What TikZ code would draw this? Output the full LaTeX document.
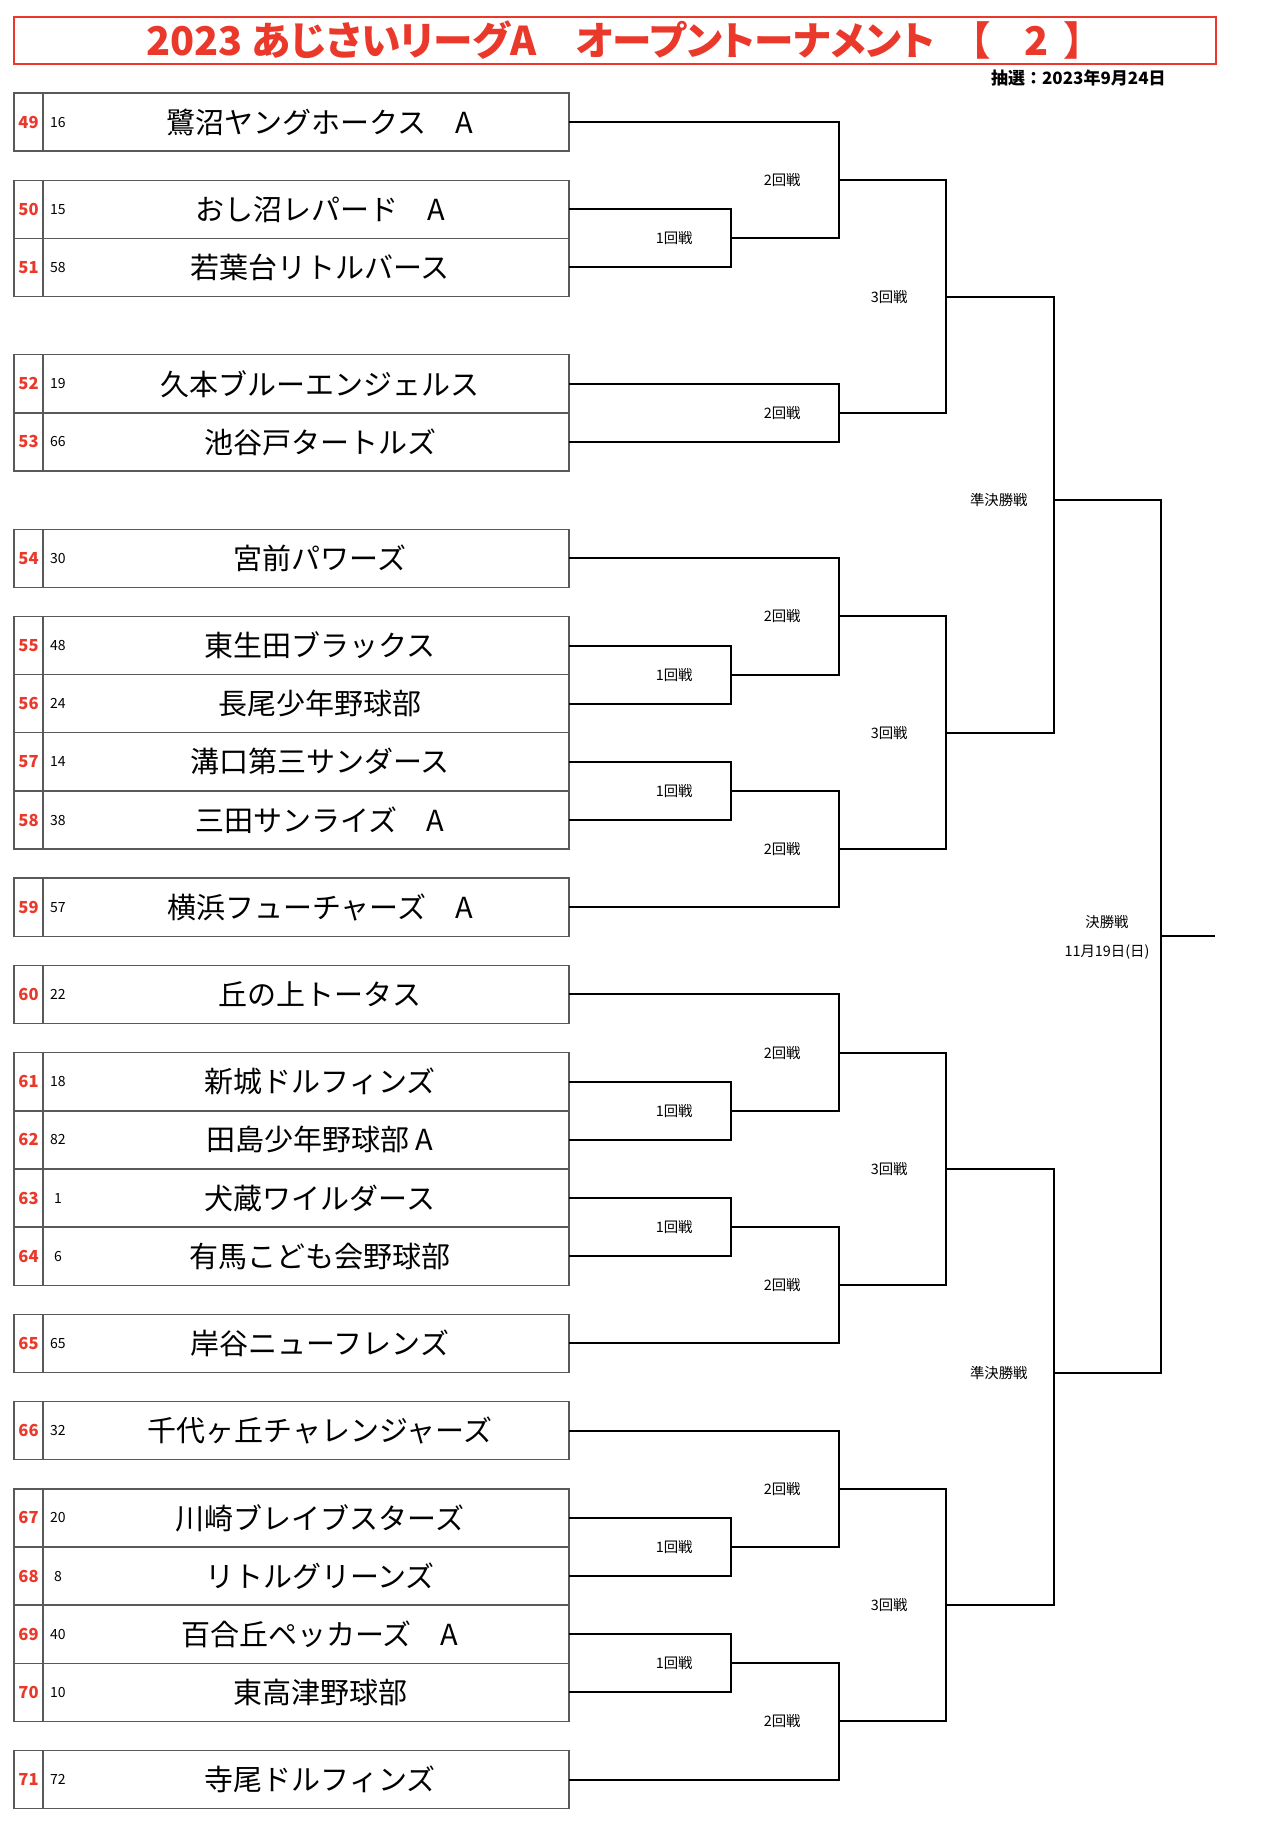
\documentclass[tikz,border=0pt]{standalone}
\usepackage{fontspec}
\setmainfont{Noto Sans CJK JP}
\newfontfamily\titlefont[RawFeature=+palt]{Noto Sans CJK JP}
\definecolor{titlered}{RGB}{234,56,42}
\begin{document}
\begin{tikzpicture}[x=0.5pt,y=-14.54pt,
  team box/.style={draw=black!65,line width=0.7pt,minimum width=277.5pt,minimum height=29.08pt,inner sep=0pt,outer sep=0pt},
  team name/.style={font=\fontsize{14.5pt}{16pt}\selectfont},
  seed/.style={font=\fontsize{7pt}{8pt}\selectfont},
  entry no/.style={font=\fontsize{8.3pt}{9pt}\selectfont\bfseries,text=titlered},
  bracket/.style={draw,line width=1pt},
  round/.style={font=\fontsize{7.2pt}{8pt}\selectfont,anchor=east,inner sep=0pt}]

      \useasboundingbox (0,-3.198) rectangle (1284,60.007);

      \node[draw=titlered,line width=1pt,minimum width=601pt,minimum height=23.5pt,inner sep=0pt,text=titlered,
        font=\titlefont\bfseries\fontsize{19.8pt}{22pt}\selectfont] (title) at (615,-1.807)
        {2023 あじさいリーグA　オープントーナメント\hspace{0.9em}【\hspace{0.85em}2\hspace{0.4em}】};
      \node[font=\fontsize{8.5pt}{9pt}\selectfont\bfseries,anchor=east,inner sep=0pt] (draw date) at (1166,-0.516)
        {抽選：2023年9月24日};

      \foreach \n/\k/\s/\name in {49/0/16/鷺沼ヤングホークス　A, 50/3/15/おし沼レパード　A, 51/5/58/若葉台リトルバース,
        52/9/19/久本ブルーエンジェルス, 53/11/66/池谷戸タートルズ, 54/15/30/宮前パワーズ,
        55/18/48/東生田ブラックス, 56/20/24/長尾少年野球部, 57/22/14/溝口第三サンダース,
        58/24/38/三田サンライズ　A, 59/27/57/横浜フューチャーズ　A, 60/30/22/丘の上トータス,
        61/33/18/新城ドルフィンズ, 62/35/82/田島少年野球部 A, 63/37/1/犬蔵ワイルダース,
        64/39/6/有馬こども会野球部, 65/42/65/岸谷ニューフレンズ, 66/45/32/千代ヶ丘チャレンジャーズ,
        67/48/20/川崎ブレイブスターズ, 68/50/8/リトルグリーンズ, 69/52/40/百合丘ペッカーズ　A,
        70/54/10/東高津野球部, 71/57/72/寺尾ドルフィンズ}{
        \node[team box] (t\n) at (291.5,\k+1) {};
        \draw[draw=black!65,line width=0.7pt] ([xshift=14.5pt]t\n.north west) -- ([xshift=14.5pt]t\n.south west);
        \node[entry no] at (28.5,\k+1) {\n};
        \node[seed] at (58,\k+1) {\s};
        \node[team name] at (320,\k+1) {\name};
      }

      % upper half
      \coordinate (m1) at (731,5);
      \coordinate (m2) at (839,3);
      \coordinate (m3) at (839,11);
      \coordinate (m4) at (946,7);
      \coordinate (m5) at (731,20);
      \coordinate (m6) at (839,18);
      \coordinate (m7) at (731,24);
      \coordinate (m8) at (839,26);
      \coordinate (m9) at (946,22);
      \coordinate (s1) at (1054,14);
      % lower half
      \coordinate (m10) at (731,35);
      \coordinate (m11) at (839,33);
      \coordinate (m12) at (731,39);
      \coordinate (m13) at (839,41);
      \coordinate (m14) at (946,37);
      \coordinate (m15) at (731,50);
      \coordinate (m16) at (839,48);
      \coordinate (m17) at (731,54);
      \coordinate (m18) at (839,56);
      \coordinate (m19) at (946,52);
      \coordinate (s2) at (1054,44);
      \coordinate (f) at (1161,29);
      \coordinate (champ) at (1215,29);

      \path[bracket]
      (t50.east) -| (m1) |- (t51.east)
      (t49.east) -| (m2) |- (m1)
      (t52.east) -| (m3) |- (t53.east)
      (m2) -| (m4) |- (m3)
      (t55.east) -| (m5) |- (t56.east)
      (t54.east) -| (m6) |- (m5)
      (t57.east) -| (m7) |- (t58.east)
      (m7) -| (m8) |- (t59.east)
      (m6) -| (m9) |- (m8)
      (m4) -| (s1) |- (m9)
      (t61.east) -| (m10) |- (t62.east)
      (t60.east) -| (m11) |- (m10)
      (t63.east) -| (m12) |- (t64.east)
      (m12) -| (m13) |- (t65.east)
      (m11) -| (m14) |- (m13)
      (t67.east) -| (m15) |- (t68.east)
      (t66.east) -| (m16) |- (m15)
      (t69.east) -| (m17) |- (t70.east)
      (m17) -| (m18) |- (t71.east)
      (m16) -| (m19) |- (m18)
      (m14) -| (s2) |- (m19)
      (s1) -| (f) |- (s2)
      (f) -- (champ)
      ;

      \foreach \m in {m1,m5,m7,m10,m12,m15,m17}
        \path (\m) ++(-38,0) node[round] {1回戦};
      \foreach \m in {m2,m3,m6,m8,m11,m13,m16,m18}
        \path (\m) ++(-38,0) node[round] {2回戦};
      \foreach \m in {m4,m9,m14,m19}
        \path (\m) ++(-38,0) node[round] {3回戦};
      \foreach \m in {s1,s2}
        \path (\m) ++(-26,0) node[round] {準決勝戦};
      \node[round,anchor=center] (final) at (1107,28.5) {決勝戦};
      \node[round,anchor=center] (final date) at (1107,29.54) {11月19日(日)};

\end{tikzpicture}
\end{document}
